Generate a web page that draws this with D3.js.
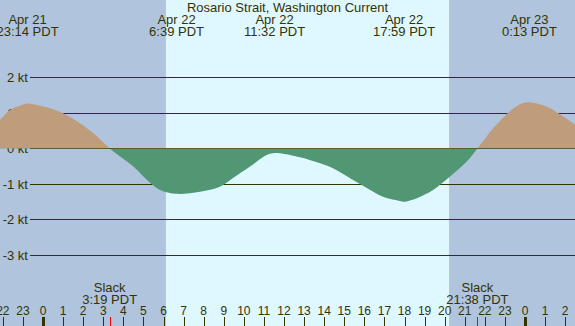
<!DOCTYPE html>
<html>
<head>
<meta charset="utf-8">
<script src="https://cdn.jsdelivr.net/npm/d3@7"></script>
<style>
  body { margin: 0; background: #fff; }
  svg { display: block; font-family: "Liberation Sans", Arial, sans-serif; }
</style>
</head>
<body>
<svg width="575" height="326"></svg>
<script>
// current samples, hours from Apr 22 00:00 PDT
const hours = [-2.14, -1.64, -1.15, -0.77, -0.3, 0.35, 1.0, 1.84, 2.5, 3.32, 4.5, 5.33, 5.83, 6.65,
  7.82, 8.8, 9.46, 10.31, 11.16, 11.53, 11.8, 12.8, 13.8, 14.44, 15.29, 16.14, 16.93, 17.78, 17.98,
  18.62, 19.42, 20.27, 21.1, 21.63, 22.43, 23.1, 23.76, 24.22, 25.08, 25.75, 26.5];
const knots = [0.80, 1.08, 1.20, 1.26, 1.22, 1.13, 0.99, 0.71, 0.43, 0, -0.51, -0.97, -1.17, -1.28,
  -1.22, -1.08, -0.83, -0.51, -0.18, -0.13, -0.135, -0.25, -0.42, -0.56, -0.84, -1.12, -1.36, -1.48, -1.5,
  -1.40, -1.17, -0.79, -0.37, 0, 0.57, 0.97, 1.25, 1.30, 1.18, 0.96, 0.66];

const eventHours = [-0.77, 6.65, 11.53, 17.98, 24.22];
const eventDates = ["Apr 21", "Apr 22", "Apr 22", "Apr 22", "Apr 23"];
const eventTimes = ["23:14 PDT", "6:39 PDT", "11:32 PDT", "17:59 PDT", "0:13 PDT"];

const slackHours = [3.32, 21.63];
const slackTimes = ["3:19 PDT", "21:38 PDT"];

const sunrise = 6.12, sunset = 20.22;
const ktTicks = [2, 1, 0, -1, -2, -3];
const hourTicks = d3.range(-2, 27);

const W = 575, H = 326;
const ink = "#333300";
const svg = d3.select("svg");

const x = d3.scaleLinear().domain([0, 24]).range([43, 525]);
const y = d3.scaleLinear().domain([-3, 2]).range([255, 77.3]);

// night / day background
svg.append("rect").attr("width", W).attr("height", H).attr("fill", "#b0c4de");
svg.append("rect")
  .attr("x", x(sunrise)).attr("y", 0)
  .attr("width", x(sunset) - x(sunrise)).attr("height", H)
  .attr("fill", "#dff7ff");

// grid lines
svg.append("g").selectAll("line")
  .data(ktTicks).join("line")
  .attr("x1", 30).attr("x2", W)
  .attr("y1", d => Math.round(y(d)) + 0.5).attr("y2", d => Math.round(y(d)) + 0.5)
  .attr("stroke", ink).attr("stroke-width", 1);

svg.append("g").selectAll("text")
  .data(ktTicks).join("text")
  .attr("x", 28).attr("y", d => y(d)).attr("dy", "0.36em")
  .attr("text-anchor", "end").attr("font-size", 13).attr("fill", ink)
  .text(d => d + " kt");

// flood / ebb areas
const pts = hours.map((h, i) => [h, knots[i]]);
const area = d3.area()
  .x(d => x(d[0])).y0(y(0)).y1(d => y(d[1]))
  .curve(d3.curveCatmullRom);

const defs = svg.append("defs");
defs.append("clipPath").attr("id", "above")
  .append("rect").attr("x", 0).attr("y", 0).attr("width", W).attr("height", y(0));
defs.append("clipPath").attr("id", "below")
  .append("rect").attr("x", 0).attr("y", y(0)).attr("width", W).attr("height", H);

svg.append("path").datum(pts).attr("d", area)
  .attr("fill", "#bf9d7c").attr("clip-path", "url(#above)");
svg.append("path").datum(pts).attr("d", area)
  .attr("fill", "#519774").attr("clip-path", "url(#below)");

// title
svg.append("text").attr("x", W / 2).attr("y", 12)
  .attr("text-anchor", "middle").attr("font-size", 13).attr("fill", ink)
  .text("Rosario Strait, Washington Current");

// max current events
const ev = svg.append("g").selectAll("g")
  .data(eventHours).join("g")
  .attr("font-size", 13).attr("fill", ink).attr("text-anchor", "middle");
ev.append("text").attr("x", d => x(d)).attr("y", 24).text((d, i) => eventDates[i]);
ev.append("text").attr("x", d => x(d)).attr("y", 36).text((d, i) => eventTimes[i]);

// slack labels
const sl = svg.append("g").selectAll("g")
  .data(slackHours).join("g")
  .attr("font-size", 13).attr("fill", ink).attr("text-anchor", "middle");
sl.append("text").attr("x", d => x(d)).attr("y", 292).text("Slack");
sl.append("text").attr("x", d => x(d)).attr("y", 304).text((d, i) => slackTimes[i]);

// hour axis
svg.append("g").selectAll("text")
  .data(hourTicks).join("text")
  .attr("x", d => x(d)).attr("y", 315)
  .attr("text-anchor", "middle").attr("font-size", 12).attr("fill", ink)
  .text(d => ((d % 24) + 24) % 24);

svg.append("g").selectAll("line")
  .data(hourTicks).join("line")
  .attr("x1", d => Math.round(x(d)) + 0.5).attr("x2", d => Math.round(x(d)) + 0.5)
  .attr("y1", 317).attr("y2", H)
  .attr("stroke", ink)
  .attr("stroke-width", d => d % 24 === 0 ? 3 : 1);

svg.append("g").selectAll("line")
  .data(slackHours).join("line")
  .attr("x1", d => Math.round(x(d)) + 0.5).attr("x2", d => Math.round(x(d)) + 0.5)
  .attr("y1", 317).attr("y2", H)
  .attr("stroke", "#ff0000").attr("stroke-width", 1);
</script>
</body>
</html>
